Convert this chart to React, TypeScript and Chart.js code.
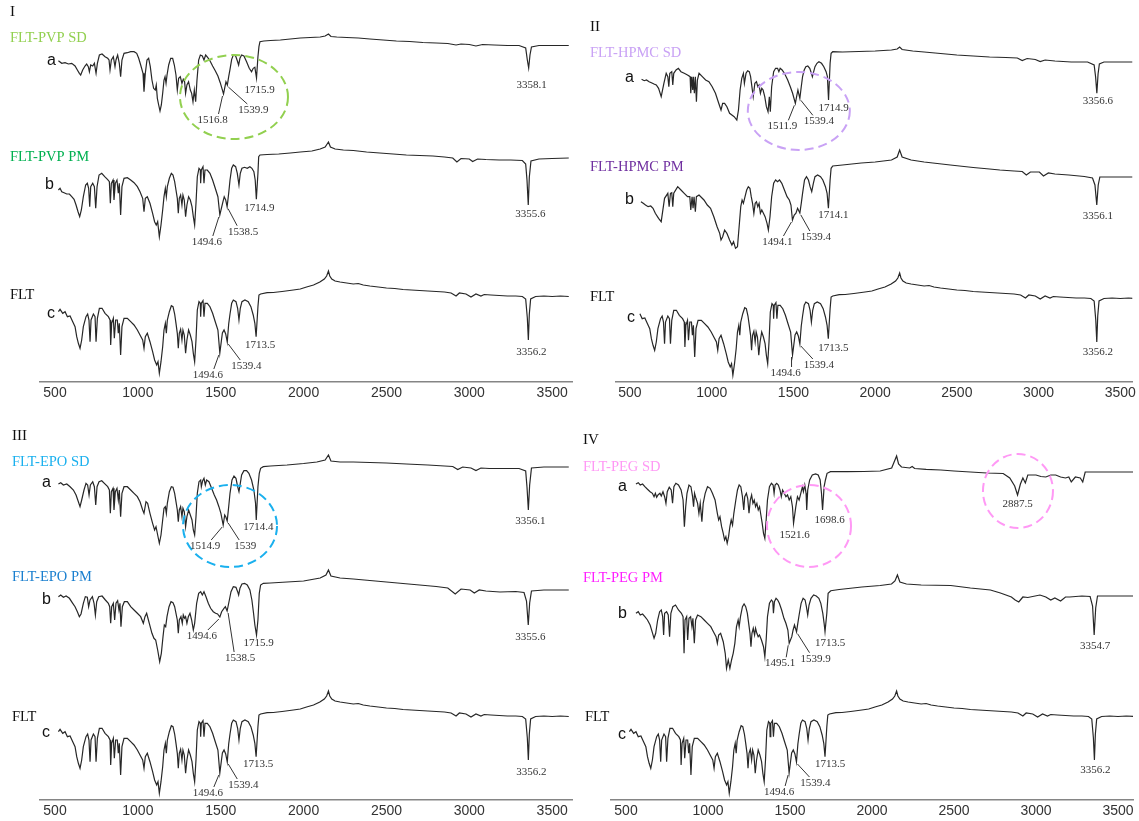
import { useEffect, useRef } from 'react';
import { Chart, registerables } from 'chart.js';

Chart.register(...registerables);

type Pt = [number, number]; // [wavenumber cm-1, relative transmittance]

// ---------- spectra ----------
const fltSpectrum: Pt[] = [
  [520.6,78.3],[530.6,80.7],[546.7,76.7],[560.8,78.3],[574.8,73.3],[590.9,74],[607,68.3],[621,63.3],[631,53.3],[641,46.7],[651,41.7],[661,50],[671,63.3],[687,73.3],[697,76],[705,70],[711.5,48.3],[717.5,70],[731.6,76],[741.6,73.3],[747.7,48.3],[755.7,71.7],[767.8,81.7],[783.9,81.7],[802,76.7],[822,73.3],[832,70],[836,45],[842,66.7],[852,71.7],[858,51.7],[866,70],[876,70],[882,56.7],[888,66.7],[896,35],[904,63.3],[916.5,71.7],[936.6,71.7],[956.7,68.3],[976.8,65],[997,60],[1013,55],[1029,50],[1037,41.7],[1045,53.3],[1057,56.7],[1073,48.3],[1089,38.3],[1101,30],[1113.5,25],[1121.5,28.3],[1129.6,16.7],[1139.6,28.3],[1149.7,43.3],[1157.7,60],[1165.8,66.7],[1171.8,56.7],[1177.8,70],[1190,78.3],[1202,84.3],[1212,83.3],[1222,76],[1230,66.7],[1238,56.7],[1244,41.7],[1250,56.7],[1258,60.7],[1266,50],[1272,60],[1280,55],[1288,36.7],[1296,50],[1306,60],[1316.5,55],[1326.6,48.3],[1334.6,36.7],[1342.6,28.3],[1350.7,50],[1358.7,80],[1368.8,88.3],[1376.8,86.7],[1378.8,73.3],[1383,86.7],[1393,89.3],[1399,73.3],[1405,86.7],[1419,86.7],[1435,83.3],[1451,76.7],[1467,68.3],[1483,60],[1494.6,37],[1510,57],[1520,60],[1530,56],[1539.4,48],[1548,66],[1556,76],[1566,86.7],[1576,90],[1592,88.3],[1602,81.7],[1610,70],[1618,81.7],[1628,88.3],[1646,90],[1666,88.3],[1682,83.3],[1696,75],[1706,66.7],[1713.5,53.3],[1724.5,83.3],[1730.6,95],[1740.6,96],[1780,97.3],[1817,97.5],[1870,98.5],[1938,100],[1980,101],[2018,103],[2060,105],[2098,108],[2125,111],[2139,114],[2150,119],[2158,114],[2170,111],[2190,109],[2220,108],[2260,107],[2300,106],[2330,106.5],[2360,105],[2400,104],[2450,103],[2500,102],[2550,101.5],[2600,100.5],[2650,100],[2700,99.5],[2750,99],[2800,98.5],[2850,98],[2890,97],[2920,94],[2940,97],[2980,96],[3010,93],[3040,96],[3070,94],[3090,95.5],[3130,95],[3180,94.5],[3230,94],[3280,94],[3320,93.5],[3340,91],[3350,72],[3356.2,50],[3362,76],[3370,91],[3400,93.5],[3450,94],[3500,93.5],[3550,94],[3600,93.5],
];

const pvpSD: Pt[] = [
  [520.6,79.3],[540.7,76.7],[560.8,77.3],[581,76],[601,76.7],[621,74],[635,70],[647,66.7],[655,65],[667,70],[681,74],[691,76],[701,73.3],[707.5,68.3],[715.5,75],[727.6,74],[737.6,76.7],[747.7,66.7],[755.7,76.7],[767.8,85],[783.9,86],[802,83.3],[818,81.7],[826,80],[832,70],[840,80],[852,83.3],[862,73.3],[868,80],[878,85],[888,76.7],[896,63.3],[904,80],[916.5,86.7],[936.6,87.3],[956.7,88.3],[977,88.3],[993,86.7],[1005,81.7],[1017,75],[1031,66.7],[1037,48.3],[1045,66.7],[1055,80],[1065,81.7],[1075,73.3],[1085,60],[1095,51.7],[1105,50],[1111,55],[1117.5,41.7],[1125.6,35],[1133.6,29],[1141.6,35],[1149.7,46.7],[1157.7,60],[1164,63.3],[1170,56.7],[1176,65],[1186,75],[1198,81.7],[1210,81.7],[1220,75],[1230,65],[1238,50],[1246,61.7],[1256,63.3],[1266,56.7],[1274,60.7],[1282,58.3],[1288,46.7],[1296,55],[1306,58.3],[1316.5,50],[1324.6,46.7],[1332.6,38.3],[1340.6,50],[1348.7,38.3],[1356.7,60],[1366.8,80],[1377,85],[1389,84],[1399,80],[1409,85],[1421,82.7],[1435,79.3],[1451,74],[1467,69.3],[1483,64],[1497,57.3],[1509,50.7],[1516.8,46],[1525.6,53.3],[1531.6,58.3],[1539.9,55],[1548,63.3],[1556,70.7],[1566,80.7],[1576,85],[1590,84],[1600,79.3],[1608,75],[1616,81.7],[1626,85],[1640,84],[1656,78.3],[1672,71.7],[1686,68.3],[1696,71.7],[1706,72.7],[1715.9,62],[1724.5,83.3],[1730.6,93.3],[1736.7,98.3],[1760,99],[1800,99.5],[1860,100],[1920,101],[1980,102],[2040,102.5],[2100,103],[2130,104],[2150,106],[2165,103.5],[2200,103],[2260,102.5],[2330,102],[2400,101],[2480,100],[2560,99],[2640,98.5],[2720,97.5],[2800,97],[2870,96.5],[2920,95],[2950,96],[3000,95.5],[3040,94],[3080,95.5],[3150,95],[3230,94.5],[3300,94.5],[3340,92],[3350,80],[3358.1,72],[3366,85],[3375,93],[3420,94.5],[3500,94.5],[3600,94.5],
];

const pvpPM: Pt[] = [
  [520.6,65],[530.6,66.7],[540.7,63.3],[554.7,62.3],[571,61],[587,61],[601,58.3],[615,55.7],[627,50],[639,43.3],[649,38.3],[659,45],[671,58.3],[685,70],[695,71.7],[703,66.7],[709.5,48.3],[715.5,68.3],[727.6,71.7],[737.6,68.3],[745.7,46.7],[753.7,68.3],[765.8,80],[781.9,81.7],[800,78.3],[818,75.3],[828,73.3],[834,51.7],[840,71.7],[850,75],[856,55],[864,71.7],[874,75],[882,61.7],[888,71.7],[896,40],[904,68.3],[916.5,76.7],[936.6,77.3],[956.7,75],[977,72.3],[997,68.3],[1013,63.3],[1029,56.7],[1037,43.3],[1045,56.7],[1057,58.3],[1073,51.7],[1089,41.7],[1101,33.3],[1111,30],[1119.5,33.3],[1129.6,18.3],[1139.6,30],[1149.7,45],[1157.7,58.3],[1165.8,66.7],[1171.8,58.3],[1177.8,68.3],[1190,76.7],[1202,81.7],[1212,80],[1222,73.3],[1230,65],[1238,56.7],[1244,41.7],[1250,56.7],[1258,60],[1266,50],[1272,60],[1280,55],[1288,38.3],[1296,50],[1306,58.3],[1316.5,55],[1326.6,48.3],[1334.6,38.3],[1342.6,30],[1350.7,51.7],[1358.7,78.3],[1368.8,86.7],[1376.8,85],[1378.8,71.7],[1383,85],[1393,88.3],[1399,71.7],[1405,85],[1419,85],[1435,81.7],[1451,75],[1467,66.7],[1483,58.3],[1494.6,40],[1511,51.7],[1521,58.3],[1530,55],[1538.5,48.3],[1548,61.7],[1556,75],[1566,86.7],[1576,90],[1590,88.3],[1600,81.7],[1610,70],[1618,81.7],[1628,86.7],[1644,87.7],[1660,86.7],[1676,88.3],[1688,86.7],[1700,83.3],[1708,75],[1714.9,55.7],[1724.5,81.7],[1729,98.3],[1737,100],[1780,100.5],[1850,101],[1920,102],[1980,103],[2050,104],[2100,106],[2130,108],[2150,113],[2162,108],[2190,106],[2240,105],[2300,104.5],[2380,103],[2460,102],[2540,101],[2620,100],[2700,99.5],[2780,99],[2850,98],[2900,97],[2925,93],[2950,96.5],[3000,96],[3020,93.5],[3050,96],[3100,95.5],[3180,95],[3250,95],[3320,94.5],[3340,91],[3348,75],[3355.6,50],[3362,78],[3372,94],[3420,96],[3500,96.5],[3600,97],
];

const hpmcSD: Pt[] = [
  [571,72.7],[587,71.3],[601,72],[617,70.3],[631,69.3],[647,68],[661,67],[675,63.7],[691,55.3],[707.5,68.7],[721.6,78.7],[731.6,75.3],[737.6,65.3],[743.7,78.7],[755.7,80.3],[761.8,67],[767.8,78.7],[782,82],[796,83.7],[812,80.3],[832,78.7],[852,77],[868,75.3],[872,58.7],[878,75.3],[884,62],[888,75.3],[894,58.7],[900,75.3],[906.5,50.3],[912.5,72],[922.6,78.7],[942.7,75.3],[962.8,72],[983,70.3],[1003,65.3],[1023,58.7],[1043,48.7],[1057,42],[1067,48.7],[1079,48.7],[1093,45.3],[1109.5,38.7],[1123.5,37],[1137.6,35.3],[1153.7,32],[1163.8,42],[1173.8,62],[1183.9,73.7],[1194,78.7],[1200,68.7],[1210,78.7],[1220,81.3],[1230,80.3],[1238,75.3],[1246,65.3],[1254,55.3],[1264,68.7],[1274,70.3],[1282,65.3],[1290,67],[1298,58.7],[1306.5,63.7],[1314.5,62],[1324.6,55.3],[1334.6,45.3],[1344.7,40.3],[1352.7,55.3],[1358.7,40.3],[1366.8,65.3],[1379,80.3],[1391,83.7],[1403,83.7],[1411,80.3],[1419,83.7],[1431,82],[1445,78.7],[1465,72],[1481,65.3],[1495,58.7],[1511.9,48.7],[1519.5,55.3],[1527.6,62],[1539.4,53.7],[1548,65.3],[1556,75.3],[1566,82],[1576,85.3],[1588,86],[1600,83.7],[1610,78.7],[1616,75.3],[1624,80.3],[1632,85.3],[1644,88.7],[1656,90.3],[1672,88.7],[1686,85.3],[1700,80.3],[1708,75.3],[1714.9,52],[1724.5,88.7],[1730.6,98.7],[1740.6,100.3],[1800,100],[1900,100.5],[2000,101],[2100,102],[2135,103],[2150,105],[2165,102.5],[2230,101],[2300,100],[2400,98.5],[2500,97],[2600,96],[2700,95],[2800,94.5],[2870,94],[2900,91.5],[2930,93.5],[2980,92.5],[3010,90.5],[3040,92],[3100,91],[3200,90],[3300,90],[3340,87],[3349,75],[3356.6,58.7],[3364,78],[3372,88],[3400,90],[3500,90],[3600,90],
];

const hpmcPM: Pt[] = [
  [567,63.3],[581,61.7],[595,60],[611,58.3],[627,59],[641,56.7],[655,51.7],[675,46.7],[691,43.3],[711.5,66.7],[731.6,71.7],[739.6,58.3],[747.7,71.7],[755.7,72.3],[761.8,58.3],[767.8,71.7],[792,78.3],[812,75],[832,71.7],[852,68.3],[866,68.3],[872,55],[880,68.3],[886,56.7],[892,68.3],[900,53.3],[906.5,68.3],[922.6,70],[952.7,65],[973,60],[993,56.7],[1013,48.3],[1033,38.3],[1049,31.7],[1057,25],[1067,28.3],[1079,35],[1093,31.7],[1109.5,25],[1123.5,20],[1133.6,23.3],[1145.7,16.7],[1157.7,18.3],[1167.8,38.3],[1177.8,58.3],[1186,65],[1194,61.7],[1204,68.3],[1214,75],[1224,78.3],[1234,76.7],[1242,68.3],[1250,61.7],[1258,51.7],[1266,61.7],[1274,63.3],[1282,58.3],[1290,61.7],[1298,51.7],[1306.5,55],[1316.5,51.7],[1326.6,48.3],[1338.6,41.7],[1346.7,35],[1356.7,48.3],[1366.8,68.3],[1379,81.7],[1391,85],[1403,83.3],[1415,85],[1429,81.7],[1445,75],[1461,68.3],[1475,65],[1485,60],[1494.1,45],[1505,50],[1515.5,51.7],[1525.6,56.7],[1539.4,52],[1548,61.7],[1556,71.7],[1568,85],[1580,88.3],[1592,85],[1602,78.3],[1612,73.3],[1622,81.7],[1632,88.3],[1648,90],[1666,88.3],[1680,85],[1696,78.3],[1706,71.7],[1714.1,56.7],[1724.5,85],[1730.6,96.7],[1740.6,99],[1800,100],[1915,102],[2000,103],[2100,105],[2135,108],[2150,115],[2165,108],[2220,105],[2300,103],[2380,101.5],[2460,100],[2600,97.5],[2700,96],[2763,95],[2850,94],[2900,93.5],[2925,90],[2950,93],[3005,93],[3030,89],[3060,92],[3100,91],[3185,90],[3280,88.5],[3330,87],[3345,80],[3356.1,60],[3365,80],[3375,88],[3450,88],[3600,88],
];

const epoSD: Pt[] = [
  [520.6,83],[534.6,84.3],[550.7,82],[571,83],[591,80.3],[611,77],[627,72],[641,65.3],[651,60.3],[661,67],[675,77],[687,83.7],[697,82],[705.5,72],[713.5,82],[727.6,85.3],[737.6,80.3],[745.7,62],[753.7,80.3],[765.8,85.3],[782,86.3],[798,83.7],[818,80.3],[828,77],[834,53.7],[840,75.3],[850,78.7],[856,57],[864,75.3],[874,78.7],[882,67],[888,77],[896,50.3],[904,73.7],[916.5,80.3],[936.6,80.3],[956.7,77],[977,73.7],[997,70.3],[1013,65.3],[1029,57],[1037,53.7],[1049,65.3],[1059,63.7],[1073,53.7],[1089,43.7],[1101,37],[1109.5,40.3],[1119.5,32],[1129.6,23.7],[1139.6,32],[1149.7,47],[1157.7,58.7],[1165.8,60.3],[1171.8,53.7],[1177.8,63.7],[1190,75.3],[1202,80.3],[1212,79.7],[1222,73.7],[1230,65.3],[1238,57],[1244,45.3],[1250,57],[1258,60.3],[1266,50.3],[1272,58.7],[1280,55.3],[1288,40.3],[1296,50.3],[1306.5,57],[1316.5,52],[1326.6,47],[1334.6,37],[1342.6,32],[1350.7,50.3],[1358.7,73.7],[1368.8,85.3],[1379,87],[1383,80.3],[1391,86.3],[1399,88.7],[1407,82],[1415,87],[1429,85.3],[1445,78.7],[1461,72],[1475,67],[1489,60.3],[1501,53.7],[1514.9,42],[1524,52],[1531,50],[1539,46],[1548,60.3],[1556,73.7],[1568,87],[1580,91],[1592,88.7],[1602,80.3],[1610,75.3],[1618,83.7],[1626,92],[1640,96.3],[1656,96.3],[1670,93.7],[1686,87],[1700,77],[1710,63.7],[1714.4,47],[1724.5,80.3],[1732.6,93.7],[1740.6,98.7],[1757,100.3],[1800,101],[1900,102],[2000,103.5],[2080,105],[2130,107],[2150,112],[2165,106],[2220,105],[2300,105],[2400,104.5],[2500,104],[2620,103],[2750,102],[2850,101],[2900,100.5],[2930,97.5],[2960,100],[3010,99],[3040,96.5],[3070,99],[3120,98.5],[3200,98.5],[3300,98.5],[3340,96],[3348,80],[3356.1,57],[3364,82],[3375,99],[3450,100],[3600,100],
];

const epoPM: Pt[] = [
  [520.6,86.3],[534.6,88],[550.7,85.7],[567,87],[587,84.7],[607,79.7],[621,76.3],[635,71.3],[647,66.3],[657,69],[671,79.7],[683,86.3],[695,85.7],[703,76.3],[711.5,83],[725.6,86.3],[735.6,79.7],[743.7,68],[751.7,81.3],[763.8,86.3],[784,87],[804,83],[822,79.7],[830,76.3],[836,59.7],[842,76.3],[852,79.7],[860,63],[868,79.7],[878,82.3],[886,73],[892,79.7],[898,56.3],[906.5,76.3],[918.5,81.3],[936.6,81.3],[956.7,76.3],[977,73],[997,69.7],[1017,66.3],[1033,59.7],[1043,66.3],[1053,69.7],[1069,59.7],[1085,49.7],[1097,44.7],[1107.5,43],[1119.5,33],[1131.6,21.3],[1141.6,29.7],[1151.7,46.3],[1159.7,58],[1167.8,56.3],[1175.8,66.3],[1188,76.3],[1200,81.3],[1212,80.3],[1222,76.3],[1230,69.7],[1238,63],[1244,49.7],[1250,63],[1260,66.3],[1268,59.7],[1274,68],[1282,64.7],[1288,66.3],[1296,59.7],[1304.5,66.3],[1314.5,69.7],[1324.6,63],[1334.6,53],[1342.6,59.7],[1354.7,79.7],[1366.8,89.7],[1379,91.3],[1389,88],[1399,91.3],[1411,86.3],[1425,79.7],[1439,74.7],[1455,71.3],[1469,69.7],[1481,69],[1494.6,66],[1505.5,71.3],[1519.5,74.7],[1528,76.3],[1538.5,72],[1552,83],[1562,91.3],[1576,96.3],[1592,95.7],[1602,91.3],[1608,88],[1616,94.7],[1628,99],[1644,99.7],[1660,98],[1676,93],[1688,83],[1698,69.7],[1706,58],[1715.9,48],[1724.5,63],[1732.6,89.7],[1740.6,98],[1757,99.7],[1800,100],[1900,101],[2000,102],[2100,105],[2135,108],[2150,113],[2165,107],[2220,105],[2300,104],[2400,102.5],[2500,101],[2600,99.5],[2700,98],[2800,96.5],[2870,95],[2915,89],[2950,94],[3005,93],[3030,90],[3060,93],[3100,92],[3185,91],[3280,91.5],[3330,90.5],[3345,82],[3355.6,58],[3364,80],[3375,92],[3450,93],[3600,93],
];

const pegSD: Pt[] = [
  [560.7,88],[574.7,89.3],[586.8,87],[601,88],[615,85.3],[631,82.7],[647,80.3],[661,78.7],[671,75.3],[679,78.7],[687,74.7],[695,77],[707,78.7],[715,76],[725.5,80.3],[735.5,75.3],[743.6,68.7],[751.6,80.3],[763.7,84.7],[775.7,82],[783.8,68.7],[792,85.3],[804,88.7],[820,87],[836,82],[848,72],[856,45.3],[864,65.3],[872,78.7],[884,87],[896,85.3],[906,75.3],[912,65.3],[918,78.7],[926.5,73.7],[936.5,68.7],[944.6,58.7],[952.6,68.7],[962.7,50.3],[970.7,68.7],[982.8,78.7],[997,85.3],[1013,83.7],[1027,78.7],[1043,72],[1057,58.7],[1065,52],[1073,55.3],[1083,45.3],[1093,38.7],[1101,32],[1109,35.3],[1117,28.7],[1125.5,35.3],[1133.5,45.3],[1141.5,52],[1149.6,47],[1157.6,58.7],[1169.7,72],[1179.7,82],[1190,87],[1200,85.3],[1210,75.3],[1218,62],[1224,75.3],[1234,78.7],[1242,73.7],[1250,58.7],[1258,72],[1266,77],[1274,68.7],[1282,72],[1290,65.3],[1298,68.7],[1306.4,62],[1314.4,65.3],[1322.4,57],[1330.5,48.7],[1338.5,38.7],[1346.6,33.7],[1354.6,52],[1362.6,72],[1374.7,85.3],[1386.8,88.7],[1397,87],[1403,78.7],[1409,87],[1419,88.7],[1429,87],[1439,82],[1447,75.3],[1455,82],[1465,78.7],[1475,75.3],[1485,77],[1495,72],[1505,75.3],[1515,65.3],[1521.6,48.7],[1535.5,65.3],[1545.5,75.3],[1555.6,72],[1565.7,78.7],[1575.7,85.3],[1581.7,80.3],[1590,87],[1598,78.7],[1602,62],[1608,82],[1620,92],[1636,97],[1656,98],[1672,97],[1684,92],[1692,78.7],[1698.6,62],[1708,85.3],[1716,92],[1726,98.7],[1746.6,100.3],[1850,100.3],[1950,100.5],[2050,101],[2120,104],[2150,116],[2162,108],[2180,105],[2230,104],[2245,105.5],[2260,103.5],[2330,102.7],[2420,102],[2500,101],[2600,100],[2700,99],[2800,98.5],[2840,94],[2870,86],[2887.5,77],[2905,88],[2920,94],[2935,89],[2950,97],[3000,97],[3030,95.5],[3060,95],[3090,97],[3120,97],[3150,95],[3180,94],[3200,95],[3215,90],[3240,95],[3270,94],[3285,90],[3300,100],[3400,100],[3500,100],[3600,100],
];

const pegPM: Pt[] = [
  [560.7,76.7],[574.7,78.3],[586.8,75],[601,76],[615,73.3],[631,70],[647,65],[659,58.3],[671,51.7],[681,56.7],[693,70],[705,78.3],[715,80],[723.5,73.3],[729.5,55],[735.5,76.7],[747.6,78.3],[757.6,75],[765.7,53.3],[773.7,76.7],[785.8,83.3],[802,85],[820,80],[838,76.7],[848,73.3],[854,36.7],[860,70],[870,73.3],[876,50],[884,71.7],[894,73.3],[902,63.3],[908,71.7],[916.5,46.7],[924.5,70],[936.5,75],[956.6,73.3],[976.7,70],[997,66.7],[1017,63.3],[1033,58.3],[1049,53.3],[1057,46.7],[1065,55],[1077,56.7],[1093,48.3],[1105,36.7],[1113,21.7],[1123.5,30],[1133.5,21.7],[1143.6,30],[1153.6,36.7],[1163.7,46.7],[1173.7,63.3],[1183.8,70],[1190,63.3],[1198,73.3],[1210,83.3],[1220,86],[1230,83.3],[1240,76.7],[1248,66.7],[1256,56.7],[1262,43.3],[1268,56.7],[1276,61.7],[1284,55],[1290,61.7],[1298,56.7],[1306,53.3],[1314,55],[1326,50],[1338.5,43.3],[1346.6,33.3],[1354.6,50],[1362.6,73.3],[1374.7,86.7],[1386.8,90],[1395,88.3],[1399,76.7],[1405,88.3],[1415,91.7],[1425,90],[1435,86.7],[1449,80],[1463,71.7],[1475,66.7],[1487,60],[1495.1,46.7],[1511,53.3],[1519,60],[1527.5,65],[1533.5,61.7],[1539.9,58.3],[1547.6,66.7],[1555.6,75],[1567.7,86.7],[1580,91.7],[1592,90],[1600,83.3],[1608,75],[1616,85],[1628,91.7],[1644,95],[1660,94],[1676,91.7],[1688,86.7],[1700,76.7],[1708,66.7],[1713.5,58.3],[1724.5,76.7],[1732.5,96.7],[1748.6,99.3],[1800,100.5],[1938,103],[2050,104.5],[2119,106],[2140,109],[2155,115],[2170,108],[2210,106],[2300,105],[2480,104.5],[2600,102],[2722,100],[2783,97],[2850,93],[2873,90],[2895,88],[2920,93],[2950,92.5],[3024,95],[3060,93],[3090,90],[3115,92],[3150,89],[3180,93],[3205,93],[3280,94],[3330,93.5],[3345,84],[3354.7,55],[3364,82],[3375,94],[3450,94],[3600,94],
];

// ---------- axis ----------
const tickValues = [500, 1000, 1500, 2000, 2500, 3000, 3500];
const letters = ['a', 'b', 'c'];

// ---------- layout of the four blocks ----------
const CANVAS_H = 410;
const AXIS_Y = 382;
const X_MIN = 410;

type Peak = { trace: number; wn: number; dx: number; dy: number; leader?: boolean };
type Ring = { wn: number; y: number; rx: number; ry: number };
type PanelSpec = {
  roman: string; romanPos: [number, number];
  left: number; top: number; width: number;
  x500: number; pxPerWn: number; axisRight: number;
  names: string[]; nameColors: string[]; namePos: [number, number][];
  letterPos: [number, number][];
  series: Pt[][]; baselines: number[]; startWn: number[];
  peaks: Peak[]; rings: Ring[]; ringColor: string;
};

const panels: PanelSpec[] = [
  {
    roman: 'I', romanPos: [10, 12],
    left: 0, top: 0, width: 578, x500: 55, pxPerWn: 0.16573, axisRight: 572,
    names: ['FLT-PVP SD', 'FLT-PVP PM', 'FLT'], nameColors: ['#92d050', '#00b050', '#111111'],
    namePos: [[10, 38.5], [10, 157], [10, 295]],
    letterPos: [[47, 61], [45, 185], [47, 314]],
    series: [pvpSD, pvpPM, fltSpectrum], baselines: [140, 255, 390], startWn: [0, 0, 0],
    peaks: [
      { trace: 0, wn: 1715.9, dx: 3, dy: 12 }, { trace: 0, wn: 1539.9, dx: 26, dy: 25, leader: true },
      { trace: 0, wn: 1516.8, dx: -11, dy: 26, leader: true }, { trace: 0, wn: 3358.1, dx: 3, dy: 17 },
      { trace: 1, wn: 1714.9, dx: 3, dy: 9 }, { trace: 1, wn: 1538.5, dx: 16, dy: 25, leader: true },
      { trace: 1, wn: 1494.6, dx: -13, dy: 27, leader: true }, { trace: 1, wn: 3355.6, dx: 2, dy: 9 },
      { trace: 2, wn: 1713.5, dx: 4, dy: 8 }, { trace: 2, wn: 1539.4, dx: 19, dy: 24, leader: true },
      { trace: 2, wn: 1494.6, dx: -12, dy: 22, leader: true }, { trace: 2, wn: 3356.2, dx: 3, dy: 12 },
    ],
    rings: [{ wn: 1580, y: 97, rx: 54, ry: 42 }], ringColor: '#92d050',
  },
  {
    roman: 'II', romanPos: [590, 27],
    left: 578, top: 0, width: 561, x500: 630, pxPerWn: 0.16367, axisRight: 1133,
    names: ['FLT-HPMC SD', 'FLT-HPMC PM', 'FLT'], nameColors: ['#c9a2f5', '#7030a0', '#111111'],
    namePos: [[590, 53], [590, 167], [590, 297]],
    letterPos: [[625, 78], [625, 200], [627, 318]],
    series: [hpmcSD, hpmcPM, fltSpectrum], baselines: [152, 265, 392], startWn: [0, 0, 555],
    peaks: [
      { trace: 0, wn: 1714.9, dx: 5, dy: 8 }, { trace: 0, wn: 1539.4, dx: 19, dy: 23, leader: true },
      { trace: 0, wn: 1511.9, dx: -13, dy: 23, leader: true }, { trace: 0, wn: 3356.6, dx: 1, dy: 8 },
      { trace: 1, wn: 1714.1, dx: 5, dy: 7 }, { trace: 1, wn: 1539.4, dx: 16, dy: 24, leader: true },
      { trace: 1, wn: 1494.1, dx: -15, dy: 22, leader: true }, { trace: 1, wn: 3356.1, dx: 1, dy: 11 },
      { trace: 2, wn: 1713.5, dx: 5, dy: 9 }, { trace: 2, wn: 1539.4, dx: 19, dy: 21, leader: true },
      { trace: 2, wn: 1494.6, dx: -7, dy: 18, leader: true }, { trace: 2, wn: 3356.2, dx: 1, dy: 10 },
    ],
    rings: [{ wn: 1533, y: 111, rx: 51, ry: 39 }], ringColor: '#c9a2f5',
  },
  {
    roman: 'III', romanPos: [12, 436],
    left: 0, top: 418, width: 578, x500: 55, pxPerWn: 0.16573, axisRight: 572,
    names: ['FLT-EPO SD', 'FLT-EPO PM', 'FLT'], nameColors: ['#1ab0ee', '#1a7fcf', '#111111'],
    namePos: [[12, 462], [12, 577], [12, 717]],
    letterPos: [[42, 483], [42, 600], [42, 733]],
    series: [epoSD, epoPM, fltSpectrum], baselines: [567, 683, 810], startWn: [0, 0, 0],
    peaks: [
      { trace: 0, wn: 1714.4, dx: 2, dy: 7 }, { trace: 0, wn: 1539, dx: 18, dy: 25, leader: true },
      { trace: 0, wn: 1514.9, dx: -18, dy: 21, leader: true }, { trace: 0, wn: 3356.1, dx: 2, dy: 11 },
      { trace: 1, wn: 1715.9, dx: 2, dy: 8 }, { trace: 1, wn: 1538.5, dx: 13, dy: 47, leader: true },
      { trace: 1, wn: 1494.6, dx: -18, dy: 19, leader: true }, { trace: 1, wn: 3355.6, dx: 2, dy: 12 },
      { trace: 2, wn: 1713.5, dx: 2, dy: 7 }, { trace: 2, wn: 1539.4, dx: 16, dy: 23, leader: true },
      { trace: 2, wn: 1494.6, dx: -12, dy: 20, leader: true }, { trace: 2, wn: 3356.2, dx: 3, dy: 12 },
    ],
    rings: [{ wn: 1556, y: 526, rx: 47, ry: 41 }], ringColor: '#1ab0ee',
  },
  {
    roman: 'IV', romanPos: [583, 440],
    left: 578, top: 418, width: 561, x500: 626, pxPerWn: 0.164, axisRight: 1133,
    names: ['FLT-PEG SD', 'FLT-PEG PM', 'FLT'], nameColors: ['#ff99f5', '#ff1fff', '#111111'],
    namePos: [[583, 467], [583, 578], [585, 717]],
    letterPos: [[618, 487], [618, 614], [618, 735]],
    series: [pegSD, pegPM, fltSpectrum], baselines: [572, 690, 810], startWn: [0, 0, 0],
    peaks: [
      { trace: 0, wn: 1698.6, dx: 7, dy: 10 }, { trace: 0, wn: 1521.6, dx: 1, dy: 12 },
      { trace: 0, wn: 2887.5, dx: 0, dy: 9 },
      { trace: 1, wn: 1713.5, dx: 5, dy: 11 }, { trace: 1, wn: 1539.9, dx: 19, dy: 27, leader: true },
      { trace: 1, wn: 1495.1, dx: -9, dy: 20, leader: true }, { trace: 1, wn: 3354.7, dx: 1, dy: 11 },
      { trace: 2, wn: 1713.5, dx: 5, dy: 7 }, { trace: 2, wn: 1539.4, dx: 19, dy: 21, leader: true },
      { trace: 2, wn: 1494.6, dx: -10, dy: 19, leader: true }, { trace: 2, wn: 3356.2, dx: 1, dy: 10 },
    ],
    rings: [{ wn: 1616, y: 526, rx: 42, ry: 41 }, { wn: 2890, y: 491, rx: 35, ry: 37 }], ringColor: '#ff99f5',
  },
];

// vertical shift that stacks each trace in its block
const traceOffsets = (spec: PanelSpec) => spec.baselines.map((b) => spec.top + AXIS_Y - b);

// horizontal placement of the plotting area inside each canvas
function xGeometry(spec: PanelSpec) {
  const areaLeft = spec.x500 - (500 - X_MIN) * spec.pxPerWn;
  return {
    padLeft: areaLeft - spec.left,
    padRight: spec.left + spec.width - spec.axisRight,
    xMax: 500 + (spec.axisRight - spec.x500) / spec.pxPerWn,
  };
}

function decorPlugin(spec: PanelSpec) {
  return {
    id: 'panelDecor',
    afterDraw(chart: any) {
      const { ctx } = chart;
      const xs = chart.scales.x;
      const ys = chart.scales.y;
      const ox = spec.left;
      const oy = spec.top;
      const offs = traceOffsets(spec);
      ctx.save();

      // dashed rings around the shifted bands
      ctx.strokeStyle = spec.ringColor;
      ctx.lineWidth = 2;
      ctx.setLineDash([9, 5]);
      for (const r of spec.rings) {
        ctx.beginPath();
        ctx.ellipse(xs.getPixelForValue(r.wn), r.y - oy, r.rx, r.ry, 0, 0, Math.PI * 2);
        ctx.stroke();
      }
      ctx.setLineDash([]);

      // block numeral, sample names, trace letters
      ctx.textAlign = 'left';
      ctx.textBaseline = 'middle';
      ctx.fillStyle = '#111';
      ctx.font = '15px "Liberation Serif"';
      ctx.fillText(spec.roman, spec.romanPos[0] - ox, spec.romanPos[1] - oy);
      ctx.font = '14.5px "Liberation Serif"';
      spec.names.forEach((n, i) => {
        ctx.fillStyle = spec.nameColors[i];
        ctx.fillText(n, spec.namePos[i][0] - ox, spec.namePos[i][1] - oy);
      });
      ctx.fillStyle = '#111';
      ctx.font = '16px "Liberation Sans"';
      letters.forEach((l, i) => ctx.fillText(l, spec.letterPos[i][0] - ox, spec.letterPos[i][1] - oy));

      // band positions
      ctx.font = '11px "Liberation Serif"';
      ctx.textAlign = 'center';
      ctx.fillStyle = '#333';
      ctx.strokeStyle = '#333';
      ctx.lineWidth = 1;
      for (const p of spec.peaks) {
        const pt = spec.series[p.trace].find((q) => q[0] === p.wn);
        if (!pt) continue;
        const px = xs.getPixelForValue(p.wn);
        const py = ys.getPixelForValue(pt[1] + offs[p.trace]);
        const tx = px + p.dx;
        const ty = py + p.dy;
        if (p.leader) {
          const s = Math.sign(p.dx);
          ctx.beginPath();
          ctx.moveTo(px + s, py + 2);
          ctx.lineTo(tx - s * 6, ty - 6);
          ctx.stroke();
        }
        ctx.fillText(String(p.wn), tx, ty);
      }
      ctx.restore();
    },
  };
}

function Panel({ spec }: { spec: PanelSpec }) {
  const ref = useRef<HTMLCanvasElement>(null);
  useEffect(() => {
    const canvas = ref.current;
    if (!canvas) return;
    const offs = traceOffsets(spec);
    const geo = xGeometry(spec);
    const chart = new Chart(canvas, {
      type: 'line',
      data: {
        datasets: spec.series.map((s, i) => ({
          data: s.filter((p) => p[0] >= spec.startWn[i]).map(([x, t]) => ({ x, y: t + offs[i] })),
          borderColor: '#272727',
          borderWidth: 1.2,
          pointRadius: 0,
          tension: 0,
          fill: false,
        })),
      },
      options: {
        animation: false,
        responsive: false,
        events: [],
        layout: { padding: { left: geo.padLeft, right: geo.padRight, top: 0, bottom: 0 } },
        plugins: { legend: { display: false }, tooltip: { enabled: false } },
        scales: {
          x: {
            type: 'linear',
            min: X_MIN,
            max: geo.xMax,
            afterBuildTicks: (s: any) => { s.ticks = tickValues.map((v) => ({ value: v })); },
            afterFit: (s: any) => { s.height = CANVAS_H - AXIS_Y; },
            grid: { display: false, drawTicks: false },
            border: { display: true, color: '#858585', width: 1.5 },
            ticks: {
              font: { family: '"Liberation Sans", Arial', size: 14 },
              color: '#333',
              padding: 3,
              maxRotation: 0,
              autoSkip: false,
              callback: (v: any) => String(v),
            },
          },
          y: { display: false, min: 0, max: AXIS_Y },
        },
      },
      plugins: [decorPlugin(spec)],
    } as any);
    return () => chart.destroy();
  }, [spec]);
  return (
    <canvas
      ref={ref}
      width={spec.width}
      height={CANVAS_H}
      style={{ position: 'absolute', left: spec.left, top: spec.top, width: spec.width, height: CANVAS_H }}
    />
  );
}

export default function App() {
  return (
    <div style={{ position: 'fixed', left: 0, top: 0, width: 1139, height: 821, background: '#fff', overflow: 'hidden' }}>
      {panels.map((p) => <Panel key={p.roman} spec={p} />)}
    </div>
  );
}
